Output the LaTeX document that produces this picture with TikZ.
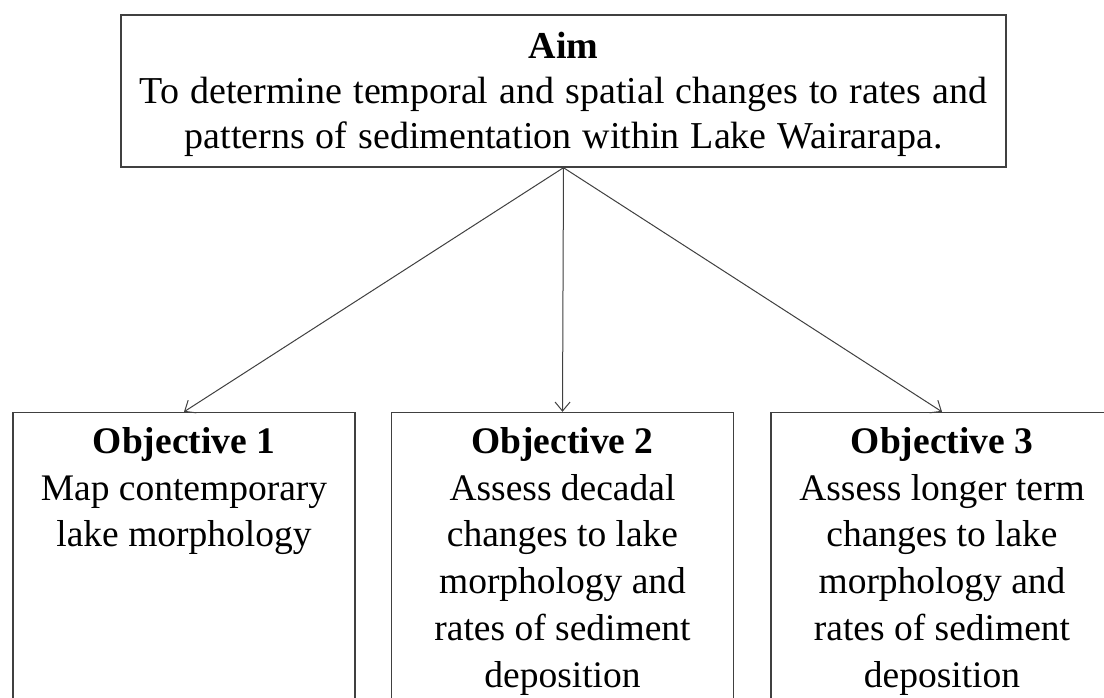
\documentclass[tikz,border=0pt]{standalone}
\usepackage{fontspec}
\setmainfont{Liberation Serif}
\usetikzlibrary{arrows.meta}
\definecolor{linegray}{HTML}{404040}
\newcommand{\aimfnt}{\fontsize{38}{45}\selectfont\spaceskip=11pt plus 2pt minus 2pt\relax}
\begin{document}
\begin{tikzpicture}[x=1pt,y=-1pt,
  box/.style={draw=linegray, line width=1.4pt, rectangle, inner sep=0pt},
  objbox/.style={box, minimum width=342pt, minimum height=318pt},
  bodytext/.style={font=\fontsize{37.5}{46.8}\selectfont, align=center, inner sep=0pt, anchor=north},
  aimtext/.style={font=\aimfnt, align=center, inner sep=0pt, anchor=north},
  conn/.style={draw=linegray, line width=1pt, -{Straight Barb[length=9pt,width=15pt,line width=1pt]}}]
\useasboundingbox (0,0) rectangle (1104,698);
\clip (0,0) rectangle (1104,698);
\fill[white] (0,0) rectangle (1104,698);
% Aim box
\node[box, minimum width=885pt, minimum height=152pt] (aim) at (563.5,91) {};
\node[aimtext] (aimt) at (563.5,32) {\textbf{Aim}\\To determine temporal and spatial changes to rates and\\patterns of sedimentation within Lake Wairarapa.};
% Objective boxes
\node[objbox] (o1) at (184,571.5) {};
\node[objbox] (o2) at (562.5,571.5) {};
\node[objbox] (o3) at (942,571.5) {};
\node[bodytext] (t1) at (184,427) {\textbf{Objective 1}\\Map contemporary\\lake morphology};
\node[bodytext] (t2) at (562.5,427) {\textbf{Objective 2}\\Assess decadal\\changes to lake\\morphology and\\rates of sediment\\deposition};
\node[bodytext] (t3) at (942,427) {\textbf{Objective 3}\\Assess longer term\\changes to lake\\morphology and\\rates of sediment\\deposition};
% Connectors
\draw[conn] (aim.south) -- (o1.north);
\draw[conn] (aim.south) -- (o2.north);
\draw[conn] (aim.south) -- (o3.north);
\end{tikzpicture}
\end{document}
